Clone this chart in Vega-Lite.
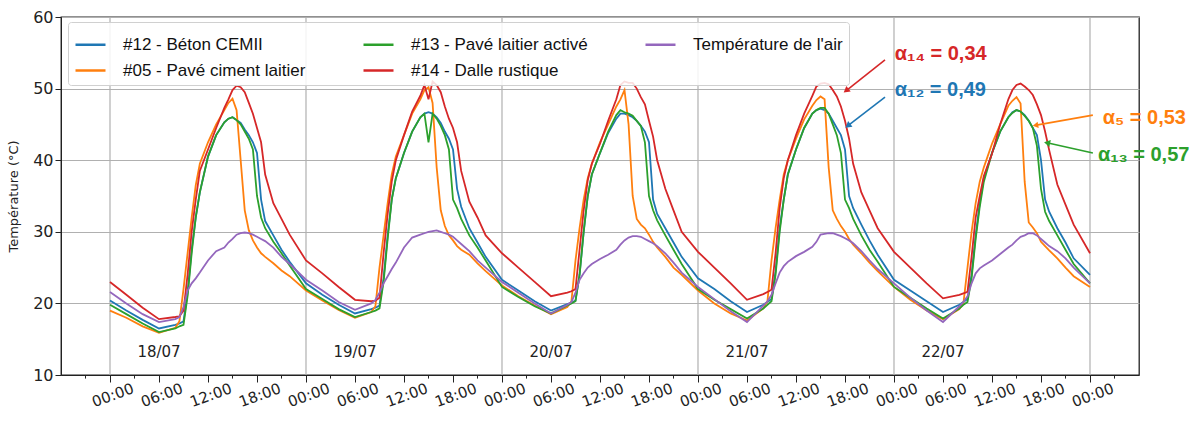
{
  "$schema": "https://vega.github.io/schema/vega-lite/v6.json",
  "width": 1078,
  "height": 358,
  "autosize": "none",
  "padding": {"left": 61, "top": 17, "right": 64, "bottom": 46},
  "background": "white",
  "config": {"font": "DejaVu Sans", "view": {"stroke": "#222222", "strokeWidth": 1.3}},
  "datasets": {
    "temps": [
      {"t":"2023-07-18T00:00","b12":20.4,"p05":19.0,"p13":19.8,"d14":23.0,"air":21.6},
      {"t":"2023-07-18T02:00","b12":19.0,"p05":18.0,"p13":18.5,"d14":21.2,"air":20.0},
      {"t":"2023-07-18T04:00","b12":17.7,"p05":16.8,"p13":17.2,"d14":19.4,"air":18.5},
      {"t":"2023-07-18T06:00","b12":16.5,"p05":15.9,"p13":16.0,"d14":17.8,"air":17.4},
      {"t":"2023-07-18T08:00","b12":17.0,"p05":16.6,"p13":16.5,"d14":18.1,"air":17.8},
      {"t":"2023-07-18T08:30","b12":17.2,"p05":17.5,"p13":16.8,"d14":18.2,"air":18.1},
      {"t":"2023-07-18T09:00","b12":17.5,"p05":22.0,"p13":17.0,"d14":19.0,"air":19.5},
      {"t":"2023-07-18T09:30","b12":21.5,"p05":27.0,"p13":21.0,"d14":24.0,"air":21.8},
      {"t":"2023-07-18T10:00","b12":27.5,"p05":32.0,"p13":27.0,"d14":30.0,"air":22.8},
      {"t":"2023-07-18T10:30","b12":32.0,"p05":36.5,"p13":32.0,"d14":34.5,"air":23.5},
      {"t":"2023-07-18T11:00","b12":35.5,"p05":39.5,"p13":35.5,"d14":38.5,"air":24.3},
      {"t":"2023-07-18T12:00","b12":40.5,"p05":42.5,"p13":40.5,"d14":41.5,"air":26.0},
      {"t":"2023-07-18T13:00","b12":43.5,"p05":45.0,"p13":43.5,"d14":44.5,"air":27.3},
      {"t":"2023-07-18T14:00","b12":45.3,"p05":47.0,"p13":45.3,"d14":47.3,"air":27.8},
      {"t":"2023-07-18T14:30","b12":45.8,"p05":48.0,"p13":45.8,"d14":48.5,"air":28.5},
      {"t":"2023-07-18T15:00","b12":46.0,"p05":48.6,"p13":46.0,"d14":49.8,"air":29.0},
      {"t":"2023-07-18T15:30","b12":45.6,"p05":47.0,"p13":45.6,"d14":50.4,"air":29.6},
      {"t":"2023-07-18T16:00","b12":45.2,"p05":40.0,"p13":45.0,"d14":50.2,"air":29.8},
      {"t":"2023-07-18T16:30","b12":44.3,"p05":33.0,"p13":44.0,"d14":49.5,"air":29.9},
      {"t":"2023-07-18T17:00","b12":43.5,"p05":30.2,"p13":43.0,"d14":48.0,"air":29.8},
      {"t":"2023-07-18T17:30","b12":42.5,"p05":28.8,"p13":41.5,"d14":46.5,"air":29.6},
      {"t":"2023-07-18T18:00","b12":41.0,"p05":27.8,"p13":35.0,"d14":44.5,"air":29.3},
      {"t":"2023-07-18T18:30","b12":34.5,"p05":27.0,"p13":32.0,"d14":42.5,"air":29.0},
      {"t":"2023-07-18T19:00","b12":31.5,"p05":26.5,"p13":30.5,"d14":38.0,"air":28.7},
      {"t":"2023-07-18T20:00","b12":29.5,"p05":25.6,"p13":28.6,"d14":34.0,"air":27.8},
      {"t":"2023-07-18T21:00","b12":27.5,"p05":24.6,"p13":27.0,"d14":31.8,"air":26.5},
      {"t":"2023-07-18T22:00","b12":25.8,"p05":23.8,"p13":25.3,"d14":29.6,"air":25.5},
      {"t":"2023-07-19T00:00","b12":22.8,"p05":21.8,"p13":22.0,"d14":26.0,"air":23.3},
      {"t":"2023-07-19T02:00","b12":21.2,"p05":20.4,"p13":20.6,"d14":24.2,"air":21.8},
      {"t":"2023-07-19T04:00","b12":19.8,"p05":19.1,"p13":19.2,"d14":22.3,"air":20.2},
      {"t":"2023-07-19T06:00","b12":18.6,"p05":18.0,"p13":18.1,"d14":20.5,"air":19.1},
      {"t":"2023-07-19T08:00","b12":19.2,"p05":18.8,"p13":18.8,"d14":20.3,"air":20.0},
      {"t":"2023-07-19T08:30","b12":19.4,"p05":19.6,"p13":19.0,"d14":20.4,"air":20.5},
      {"t":"2023-07-19T09:00","b12":19.7,"p05":25.0,"p13":19.3,"d14":20.8,"air":21.5},
      {"t":"2023-07-19T09:30","b12":23.5,"p05":29.5,"p13":23.0,"d14":27.0,"air":22.8},
      {"t":"2023-07-19T10:00","b12":29.5,"p05":34.0,"p13":29.0,"d14":32.5,"air":23.8},
      {"t":"2023-07-19T10:30","b12":34.5,"p05":38.0,"p13":34.5,"d14":37.0,"air":24.8},
      {"t":"2023-07-19T11:00","b12":37.5,"p05":40.5,"p13":37.5,"d14":40.0,"air":25.7},
      {"t":"2023-07-19T12:00","b12":41.0,"p05":43.5,"p13":41.0,"d14":43.5,"air":27.8},
      {"t":"2023-07-19T13:00","b12":44.0,"p05":46.5,"p13":44.0,"d14":46.8,"air":29.2},
      {"t":"2023-07-19T14:00","b12":46.0,"p05":48.5,"p13":46.0,"d14":49.0,"air":29.6},
      {"t":"2023-07-19T14:30","b12":46.5,"p05":49.8,"p13":46.5,"d14":50.5,"air":29.8},
      {"t":"2023-07-19T15:00","b12":46.7,"p05":50.2,"p13":42.5,"d14":48.5,"air":30.0},
      {"t":"2023-07-19T15:30","b12":46.5,"p05":48.0,"p13":46.5,"d14":51.0,"air":30.1},
      {"t":"2023-07-19T16:00","b12":46.0,"p05":39.0,"p13":45.8,"d14":50.5,"air":30.2},
      {"t":"2023-07-19T16:30","b12":45.2,"p05":33.0,"p13":44.8,"d14":49.5,"air":30.0},
      {"t":"2023-07-19T17:00","b12":44.0,"p05":30.8,"p13":43.5,"d14":47.5,"air":29.8},
      {"t":"2023-07-19T17:30","b12":43.0,"p05":29.5,"p13":41.5,"d14":45.8,"air":29.6},
      {"t":"2023-07-19T18:00","b12":41.5,"p05":28.8,"p13":34.5,"d14":44.5,"air":29.3},
      {"t":"2023-07-19T18:30","b12":36.0,"p05":28.0,"p13":33.3,"d14":42.5,"air":28.8},
      {"t":"2023-07-19T19:00","b12":33.5,"p05":27.5,"p13":31.8,"d14":38.5,"air":28.3},
      {"t":"2023-07-19T20:00","b12":30.5,"p05":26.8,"p13":29.5,"d14":34.2,"air":27.3},
      {"t":"2023-07-19T21:00","b12":28.5,"p05":25.6,"p13":27.8,"d14":32.0,"air":26.0},
      {"t":"2023-07-19T22:00","b12":26.5,"p05":24.5,"p13":26.0,"d14":29.5,"air":25.0},
      {"t":"2023-07-20T00:00","b12":23.3,"p05":22.5,"p13":22.3,"d14":27.0,"air":23.0},
      {"t":"2023-07-20T02:00","b12":21.8,"p05":21.0,"p13":20.9,"d14":25.0,"air":21.5},
      {"t":"2023-07-20T04:00","b12":20.3,"p05":19.7,"p13":19.6,"d14":23.0,"air":20.0},
      {"t":"2023-07-20T06:00","b12":19.0,"p05":18.5,"p13":18.6,"d14":21.0,"air":18.6},
      {"t":"2023-07-20T08:00","b12":19.9,"p05":19.5,"p13":19.7,"d14":21.5,"air":19.8},
      {"t":"2023-07-20T08:30","b12":20.1,"p05":20.3,"p13":20.0,"d14":21.7,"air":20.2},
      {"t":"2023-07-20T09:00","b12":20.4,"p05":26.0,"p13":20.3,"d14":22.0,"air":21.5},
      {"t":"2023-07-20T09:30","b12":24.0,"p05":30.5,"p13":24.0,"d14":27.5,"air":23.3},
      {"t":"2023-07-20T10:00","b12":30.0,"p05":34.5,"p13":30.0,"d14":33.0,"air":24.2},
      {"t":"2023-07-20T10:30","b12":35.0,"p05":37.5,"p13":35.0,"d14":37.2,"air":25.0},
      {"t":"2023-07-20T11:00","b12":38.0,"p05":39.5,"p13":38.0,"d14":39.5,"air":25.5},
      {"t":"2023-07-20T12:00","b12":41.0,"p05":42.5,"p13":41.0,"d14":42.3,"air":26.2},
      {"t":"2023-07-20T13:00","b12":43.8,"p05":45.0,"p13":44.0,"d14":45.5,"air":26.8},
      {"t":"2023-07-20T14:00","b12":45.8,"p05":47.5,"p13":46.3,"d14":48.5,"air":27.5},
      {"t":"2023-07-20T14:30","b12":46.5,"p05":48.5,"p13":47.0,"d14":50.5,"air":28.2},
      {"t":"2023-07-20T15:00","b12":46.5,"p05":49.8,"p13":46.7,"d14":51.0,"air":28.8},
      {"t":"2023-07-20T15:30","b12":46.3,"p05":45.0,"p13":46.5,"d14":50.8,"air":29.2},
      {"t":"2023-07-20T16:00","b12":46.0,"p05":35.0,"p13":46.2,"d14":50.8,"air":29.4},
      {"t":"2023-07-20T16:30","b12":45.5,"p05":31.8,"p13":45.5,"d14":50.0,"air":29.4},
      {"t":"2023-07-20T17:00","b12":44.8,"p05":31.0,"p13":44.8,"d14":48.8,"air":29.3},
      {"t":"2023-07-20T17:30","b12":44.0,"p05":30.5,"p13":42.5,"d14":47.8,"air":29.0},
      {"t":"2023-07-20T18:00","b12":42.5,"p05":29.6,"p13":35.0,"d14":45.5,"air":28.7},
      {"t":"2023-07-20T18:30","b12":34.5,"p05":28.6,"p13":33.0,"d14":43.3,"air":28.4},
      {"t":"2023-07-20T19:00","b12":32.5,"p05":27.8,"p13":31.6,"d14":40.0,"air":28.0},
      {"t":"2023-07-20T20:00","b12":30.5,"p05":26.5,"p13":29.5,"d14":36.0,"air":27.0},
      {"t":"2023-07-20T21:00","b12":28.5,"p05":25.0,"p13":27.5,"d14":33.0,"air":25.7},
      {"t":"2023-07-20T22:00","b12":26.5,"p05":24.0,"p13":25.5,"d14":30.0,"air":24.3},
      {"t":"2023-07-21T00:00","b12":23.5,"p05":21.8,"p13":22.0,"d14":27.2,"air":22.3},
      {"t":"2023-07-21T02:00","b12":22.0,"p05":20.0,"p13":20.5,"d14":25.0,"air":20.6},
      {"t":"2023-07-21T04:00","b12":20.3,"p05":18.6,"p13":19.2,"d14":22.8,"air":18.9},
      {"t":"2023-07-21T06:00","b12":18.8,"p05":17.6,"p13":17.9,"d14":20.5,"air":17.4},
      {"t":"2023-07-21T08:00","b12":19.8,"p05":19.3,"p13":19.3,"d14":21.3,"air":19.7},
      {"t":"2023-07-21T08:30","b12":20.2,"p05":20.3,"p13":19.8,"d14":21.6,"air":20.3},
      {"t":"2023-07-21T09:00","b12":20.6,"p05":26.0,"p13":20.3,"d14":21.9,"air":21.2},
      {"t":"2023-07-21T09:30","b12":24.5,"p05":30.5,"p13":24.0,"d14":27.0,"air":22.8},
      {"t":"2023-07-21T10:00","b12":30.5,"p05":34.5,"p13":30.0,"d14":33.3,"air":24.3},
      {"t":"2023-07-21T10:30","b12":34.5,"p05":38.0,"p13":34.5,"d14":37.5,"air":25.2},
      {"t":"2023-07-21T11:00","b12":38.0,"p05":40.0,"p13":38.0,"d14":40.0,"air":25.8},
      {"t":"2023-07-21T12:00","b12":41.5,"p05":43.0,"p13":41.5,"d14":43.5,"air":26.6},
      {"t":"2023-07-21T13:00","b12":44.5,"p05":45.7,"p13":44.5,"d14":46.5,"air":27.2},
      {"t":"2023-07-21T14:00","b12":46.5,"p05":47.6,"p13":46.5,"d14":49.0,"air":27.9},
      {"t":"2023-07-21T14:30","b12":47.0,"p05":48.4,"p13":47.0,"d14":50.3,"air":28.6},
      {"t":"2023-07-21T15:00","b12":47.2,"p05":48.9,"p13":47.3,"d14":50.7,"air":29.6},
      {"t":"2023-07-21T15:30","b12":47.0,"p05":48.5,"p13":47.3,"d14":50.8,"air":29.7},
      {"t":"2023-07-21T16:00","b12":46.5,"p05":39.0,"p13":46.5,"d14":50.6,"air":29.8},
      {"t":"2023-07-21T16:30","b12":45.5,"p05":33.0,"p13":45.0,"d14":49.8,"air":29.8},
      {"t":"2023-07-21T17:00","b12":44.5,"p05":31.8,"p13":43.5,"d14":48.9,"air":29.6},
      {"t":"2023-07-21T17:30","b12":43.5,"p05":30.8,"p13":41.0,"d14":47.5,"air":29.4},
      {"t":"2023-07-21T18:00","b12":41.5,"p05":30.0,"p13":34.5,"d14":45.5,"air":29.1},
      {"t":"2023-07-21T18:30","b12":35.0,"p05":29.0,"p13":33.3,"d14":43.0,"air":28.8},
      {"t":"2023-07-21T19:00","b12":33.3,"p05":28.2,"p13":31.8,"d14":39.5,"air":28.4},
      {"t":"2023-07-21T20:00","b12":31.0,"p05":27.0,"p13":29.5,"d14":35.5,"air":27.3},
      {"t":"2023-07-21T21:00","b12":28.8,"p05":25.7,"p13":27.5,"d14":33.0,"air":26.0},
      {"t":"2023-07-21T22:00","b12":26.8,"p05":24.5,"p13":25.8,"d14":30.5,"air":24.8},
      {"t":"2023-07-22T00:00","b12":23.3,"p05":22.3,"p13":22.3,"d14":27.2,"air":22.8},
      {"t":"2023-07-22T02:00","b12":21.8,"p05":20.5,"p13":20.8,"d14":25.0,"air":20.8},
      {"t":"2023-07-22T04:00","b12":20.3,"p05":19.0,"p13":19.3,"d14":22.8,"air":19.0},
      {"t":"2023-07-22T06:00","b12":18.8,"p05":17.8,"p13":17.9,"d14":20.7,"air":17.4},
      {"t":"2023-07-22T08:00","b12":19.8,"p05":19.2,"p13":19.3,"d14":21.2,"air":19.6},
      {"t":"2023-07-22T08:30","b12":20.2,"p05":20.0,"p13":19.8,"d14":21.4,"air":20.2},
      {"t":"2023-07-22T09:00","b12":20.6,"p05":25.0,"p13":20.2,"d14":21.6,"air":21.0},
      {"t":"2023-07-22T09:30","b12":24.0,"p05":30.0,"p13":23.5,"d14":26.5,"air":22.8},
      {"t":"2023-07-22T10:00","b12":29.5,"p05":34.0,"p13":29.0,"d14":32.0,"air":24.2},
      {"t":"2023-07-22T10:30","b12":34.0,"p05":37.0,"p13":33.5,"d14":35.0,"air":24.9},
      {"t":"2023-07-22T11:00","b12":37.5,"p05":39.0,"p13":37.0,"d14":37.8,"air":25.3},
      {"t":"2023-07-22T12:00","b12":41.0,"p05":42.3,"p13":41.0,"d14":40.9,"air":26.0},
      {"t":"2023-07-22T13:00","b12":44.0,"p05":45.0,"p13":44.0,"d14":45.0,"air":26.9},
      {"t":"2023-07-22T14:00","b12":46.0,"p05":47.6,"p13":46.0,"d14":48.5,"air":27.8},
      {"t":"2023-07-22T14:30","b12":46.7,"p05":48.3,"p13":46.6,"d14":49.8,"air":28.2},
      {"t":"2023-07-22T15:00","b12":47.0,"p05":48.8,"p13":47.0,"d14":50.5,"air":28.8},
      {"t":"2023-07-22T15:30","b12":46.8,"p05":47.9,"p13":46.8,"d14":50.7,"air":29.3},
      {"t":"2023-07-22T16:00","b12":46.3,"p05":37.0,"p13":46.2,"d14":50.3,"air":29.5},
      {"t":"2023-07-22T16:30","b12":45.5,"p05":31.3,"p13":45.5,"d14":49.8,"air":29.8},
      {"t":"2023-07-22T17:00","b12":44.5,"p05":30.6,"p13":44.5,"d14":49.1,"air":29.8},
      {"t":"2023-07-22T17:30","b12":43.5,"p05":29.8,"p13":42.0,"d14":47.8,"air":29.5},
      {"t":"2023-07-22T18:00","b12":40.0,"p05":28.6,"p13":36.0,"d14":46.3,"air":29.0},
      {"t":"2023-07-22T18:30","b12":34.5,"p05":28.0,"p13":32.8,"d14":44.0,"air":28.5},
      {"t":"2023-07-22T19:00","b12":32.8,"p05":27.4,"p13":31.5,"d14":41.4,"air":28.0},
      {"t":"2023-07-22T20:00","b12":30.5,"p05":26.3,"p13":29.5,"d14":36.6,"air":27.3},
      {"t":"2023-07-22T21:00","b12":28.5,"p05":25.0,"p13":27.5,"d14":33.8,"air":26.3},
      {"t":"2023-07-22T22:00","b12":26.3,"p05":23.8,"p13":25.5,"d14":31.0,"air":25.0},
      {"t":"2023-07-23T00:00","b12":24.0,"p05":22.3,"p13":22.8,"d14":27.0,"air":22.8}
    ],
    "midnights": [
      {"t":"2023-07-18T00:00"},
      {"t":"2023-07-19T00:00"},
      {"t":"2023-07-20T00:00"},
      {"t":"2023-07-21T00:00"},
      {"t":"2023-07-22T00:00"},
      {"t":"2023-07-23T00:00"}
    ],
    "minor": [
      {"t":"2023-07-17T21:00"},
      {"t":"2023-07-18T03:00"},{"t":"2023-07-18T09:00"},{"t":"2023-07-18T15:00"},{"t":"2023-07-18T21:00"},
      {"t":"2023-07-19T03:00"},{"t":"2023-07-19T09:00"},{"t":"2023-07-19T15:00"},{"t":"2023-07-19T21:00"},
      {"t":"2023-07-20T03:00"},{"t":"2023-07-20T09:00"},{"t":"2023-07-20T15:00"},{"t":"2023-07-20T21:00"},
      {"t":"2023-07-21T03:00"},{"t":"2023-07-21T09:00"},{"t":"2023-07-21T15:00"},{"t":"2023-07-21T21:00"},
      {"t":"2023-07-22T03:00"},{"t":"2023-07-22T09:00"},{"t":"2023-07-22T15:00"},{"t":"2023-07-22T21:00"},
      {"t":"2023-07-23T03:00"}
    ],
    "days": [
      {"t":"2023-07-18T06:00","label":"18/07"},
      {"t":"2023-07-19T06:00","label":"19/07"},
      {"t":"2023-07-20T06:00","label":"20/07"},
      {"t":"2023-07-21T06:00","label":"21/07"},
      {"t":"2023-07-22T06:00","label":"22/07"}
    ],
    "arrows": [
      {"k":"d14","t1":"2023-07-21T22:54","v1":54.0,"t2":"2023-07-21T18:14","v2":49.8},
      {"k":"b12","t1":"2023-07-21T22:54","v1":48.8,"t2":"2023-07-21T18:27","v2":44.9},
      {"k":"p05","t1":"2023-07-23T00:21","v1":46.3,"t2":"2023-07-22T17:26","v2":44.9},
      {"k":"p13","t1":"2023-07-23T00:21","v1":41.0,"t2":"2023-07-22T18:52","v2":42.4}
    ],
    "notes": [
      {"k":"d14","label":"α₁₄ = 0,34","t":"2023-07-22T00:06","v":54.9},
      {"k":"b12","label":"α₁₂ = 0,49","t":"2023-07-22T00:06","v":49.8},
      {"k":"p05","label":"α₅ = 0,53","t":"2023-07-23T01:34","v":45.85},
      {"k":"p13","label":"α₁₃ = 0,57","t":"2023-07-23T00:58","v":40.7}
    ]
  },
  "layer": [
    {
      "data": {"name": "midnights"},
      "mark": {"type": "rule", "color": "#b0b0b0", "strokeWidth": 1.2},
      "encoding": {
        "x": {"field": "t", "type": "temporal", "scale": {"domain": [{"year":2023,"month":7,"date":17,"hours":18}, {"year":2023,"month":7,"date":23,"hours":6}]}}
      }
    },
    {
      "data": {"name": "minor"},
      "mark": {"type": "rule", "color": "#222222", "strokeWidth": 1},
      "encoding": {
        "x": {"field": "t", "type": "temporal", "scale": {"domain": [{"year":2023,"month":7,"date":17,"hours":18}, {"year":2023,"month":7,"date":23,"hours":6}]}},
        "y": {"datum": 10, "type": "quantitative", "scale": {"domain": [10, 60], "nice": false}},
        "y2": {"datum": 9.5}
      }
    },
    {
      "data": {"name": "temps"},
      "transform": [{"fold": ["b12", "p05", "p13", "d14", "air"], "as": ["k", "v"]}],
      "mark": {"type": "line", "strokeWidth": 1.8},
      "encoding": {
        "x": {
          "field": "t", "type": "temporal",
          "scale": {"domain": [{"year":2023,"month":7,"date":17,"hours":18}, {"year":2023,"month":7,"date":23,"hours":6}]},
          "axis": {
            "title": null,
            "values": [
              {"year":2023,"month":7,"date":18,"hours":0},{"year":2023,"month":7,"date":18,"hours":6},
              {"year":2023,"month":7,"date":18,"hours":12},{"year":2023,"month":7,"date":18,"hours":18},
              {"year":2023,"month":7,"date":19,"hours":0},{"year":2023,"month":7,"date":19,"hours":6},
              {"year":2023,"month":7,"date":19,"hours":12},{"year":2023,"month":7,"date":19,"hours":18},
              {"year":2023,"month":7,"date":20,"hours":0},{"year":2023,"month":7,"date":20,"hours":6},
              {"year":2023,"month":7,"date":20,"hours":12},{"year":2023,"month":7,"date":20,"hours":18},
              {"year":2023,"month":7,"date":21,"hours":0},{"year":2023,"month":7,"date":21,"hours":6},
              {"year":2023,"month":7,"date":21,"hours":12},{"year":2023,"month":7,"date":21,"hours":18},
              {"year":2023,"month":7,"date":22,"hours":0},{"year":2023,"month":7,"date":22,"hours":6},
              {"year":2023,"month":7,"date":22,"hours":12},{"year":2023,"month":7,"date":22,"hours":18},
              {"year":2023,"month":7,"date":23,"hours":0}
            ],
            "format": "%H:%M",
            "labelAngle": -20,
            "labelAlign": "center",
            "labelBaseline": "top",
            "labelPadding": 6,
            "labelFontSize": 15,
            "labelColor": "#222222",
            "labelOverlap": false,
            "labelFlush": false,
            "tickSize": 7,
            "tickColor": "#222222",
            "domainColor": "#222222",
            "grid": false
          }
        },
        "y": {
          "field": "v", "type": "quantitative",
          "scale": {"domain": [10, 60], "nice": false},
          "axis": {
            "title": "Température (°C)",
            "titleFontSize": 13,
            "titleFontWeight": "normal",
            "titleColor": "#222222",
            "titlePadding": 12,
            "values": [10, 20, 30, 40, 50, 60],
            "labelFontSize": 16,
            "labelColor": "#222222",
            "tickSize": 6,
            "tickColor": "#222222",
            "domainColor": "#222222",
            "grid": true,
            "gridColor": "#b0b0b0",
            "gridWidth": 1.2
          }
        },
        "color": {
          "field": "k", "type": "nominal",
          "scale": {"domain": ["b12", "p05", "p13", "d14", "air"], "range": ["#1f77b4", "#ff7f0e", "#2ca02c", "#d62728", "#9467bd"]},
          "legend": {
            "title": null,
            "orient": "none",
            "legendX": 7,
            "legendY": 5,
            "columns": 3,
            "symbolType": "stroke",
            "symbolSize": 900,
            "symbolStrokeWidth": 2.5,
            "labelFont": "Liberation Sans",
            "labelFontSize": 17,
            "labelColor": "#111111",
            "labelOffset": 16,
            "labelLimit": 400,
            "rowPadding": 1,
            "columnPadding": 52,
            "padding": 6,
            "fillColor": "rgba(255,255,255,0.85)",
            "strokeColor": "#d0d0d0",
            "cornerRadius": 3,
            "labelExpr": "datum.value === 'b12' ? '#12 - Béton CEMII' : datum.value === 'p05' ? '#05 - Pavé ciment laitier' : datum.value === 'p13' ? '#13 - Pavé laitier activé' : datum.value === 'd14' ? '#14 - Dalle rustique' : \"Température de l'air\""
          }
        }
      }
    },
    {
      "data": {"name": "days"},
      "mark": {"type": "text", "fontSize": 15, "color": "#222222", "align": "center", "baseline": "middle"},
      "encoding": {
        "x": {"field": "t", "type": "temporal"},
        "y": {"datum": 13.2, "type": "quantitative", "scale": {"domain": [10, 60], "nice": false}},
        "text": {"field": "label"}
      }
    },
    {
      "data": {"name": "arrows"},
      "mark": {"type": "rule", "strokeWidth": 1.6},
      "encoding": {
        "x": {"field": "t1", "type": "temporal"},
        "y": {"field": "v1", "type": "quantitative"},
        "x2": {"field": "t2"},
        "y2": {"field": "v2"},
        "color": {"field": "k", "type": "nominal"}
      }
    },
    {
      "data": {"name": "arrows"},
      "transform": [{"filter": "datum.k === 'd14' || datum.k === 'b12'"}],
      "mark": {"type": "point", "shape": "triangle", "filled": true, "size": 50, "angle": 232, "opacity": 1},
      "encoding": {
        "x": {"field": "t2", "type": "temporal"},
        "y": {"field": "v2", "type": "quantitative"},
        "color": {"field": "k", "type": "nominal"}
      }
    },
    {
      "data": {"name": "arrows"},
      "transform": [{"filter": "datum.k === 'p05'"}],
      "mark": {"type": "point", "shape": "triangle", "filled": true, "size": 40, "angle": 260, "opacity": 1},
      "encoding": {
        "x": {"field": "t2", "type": "temporal"},
        "y": {"field": "v2", "type": "quantitative"},
        "color": {"field": "k", "type": "nominal"}
      }
    },
    {
      "data": {"name": "arrows"},
      "transform": [{"filter": "datum.k === 'p13'"}],
      "mark": {"type": "point", "shape": "triangle", "filled": true, "size": 50, "angle": 282, "opacity": 1},
      "encoding": {
        "x": {"field": "t2", "type": "temporal"},
        "y": {"field": "v2", "type": "quantitative"},
        "color": {"field": "k", "type": "nominal"}
      }
    },
    {
      "data": {"name": "notes"},
      "mark": {"type": "text", "align": "left", "baseline": "middle", "fontSize": 20, "fontWeight": "bold", "font": "Liberation Sans"},
      "encoding": {
        "x": {"field": "t", "type": "temporal"},
        "y": {"field": "v", "type": "quantitative"},
        "text": {"field": "label"},
        "color": {"field": "k", "type": "nominal"}
      }
    }
  ]
}
